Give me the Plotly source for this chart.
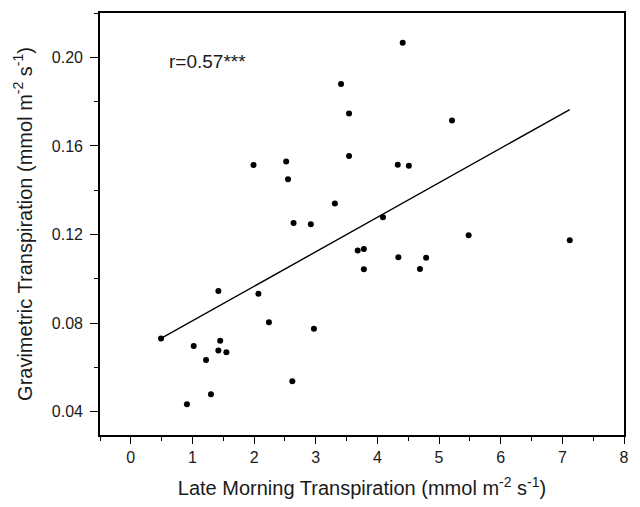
import plotly.graph_objects as go

# Data
late_morning = [4.41, 3.41, 3.54, 3.54, 1.99, 2.52, 2.55, 3.31, 5.21, 4.33, 4.51, 2.64,
                2.92, 4.09, 5.48, 7.12, 3.68, 3.78, 3.78, 4.34, 4.79, 4.69, 0.49, 1.42,
                2.07, 2.24, 2.97, 1.02, 1.45, 1.42, 1.55, 1.22, 2.62, 1.30, 0.91]
gravimetric = [0.2066, 0.188, 0.1746, 0.1554, 0.1514, 0.153, 0.1449, 0.134, 0.1715, 0.1515,
               0.1511, 0.1252, 0.1246, 0.1278, 0.1197, 0.1174, 0.1128, 0.1135, 0.1043, 0.1097,
               0.1095, 0.1044, 0.0731, 0.0945, 0.0933, 0.0804, 0.0775, 0.0697, 0.0721, 0.0676,
               0.0669, 0.0634, 0.0538, 0.0479, 0.0434]
fit_x = [0.49, 7.12]
fit_y = [0.0731, 0.1764]
x_ticks = [0, 1, 2, 3, 4, 5, 6, 7, 8]
y_ticks = [0.04, 0.08, 0.12, 0.16, 0.20]

FONT = "Liberation Sans, Arial, sans-serif"
INK = "#1a1a1a"

fig = go.Figure()
fig.add_trace(go.Scatter(x=fit_x, y=fit_y, mode="lines",
                         line=dict(color="black", width=1.4), showlegend=False))
fig.add_trace(go.Scatter(x=late_morning, y=gravimetric, mode="markers",
                         marker=dict(color="black", size=6), showlegend=False))

fig.add_annotation(x=68 / 529, y=(436.7 - 60.7) / 424.7, xref="paper", yref="paper",
                   text="r=0.57***", showarrow=False, xanchor="left", yanchor="middle",
                   font=dict(family=FONT, size=19, color=INK))

axis_common = dict(showline=True, linecolor="black", linewidth=1.6, mirror=True,
                   ticks="outside", tickwidth=1.3, tickcolor="black",
                   showgrid=False, zeroline=False,
                   tickfont=dict(family=FONT, size=16, color=INK))

fig.update_layout(
    width=640, height=507,
    margin=dict(l=100, r=11, t=12, b=70),
    paper_bgcolor="white", plot_bgcolor="white",
    xaxis=dict(range=[-0.5, 8], tickvals=x_ticks, ticklen=7,
               minor=dict(ticks="outside", ticklen=4, tickwidth=1.2, tickcolor="black", dtick=0.5, tick0=0),
               title=dict(text="Late Morning Transpiration (mmol m<sup>-2</sup> s<sup>-1</sup>)",
                          font=dict(family=FONT, size=20, color=INK), standoff=16),
               **axis_common),
    yaxis=dict(range=[0.0295, 0.22], tickvals=y_ticks, tickformat=".2f", ticklen=8,
               ticklabelstandoff=4,
               minor=dict(ticks="outside", ticklen=4, tickwidth=1.2, tickcolor="black", dtick=0.02, tick0=0),
               title=dict(text="Gravimetric Transpiration (mmol m<sup>-2</sup> s<sup>-1</sup>)",
                          font=dict(family=FONT, size=20, color=INK), standoff=14),
               **axis_common),
)

fig.write_html("out.html")
